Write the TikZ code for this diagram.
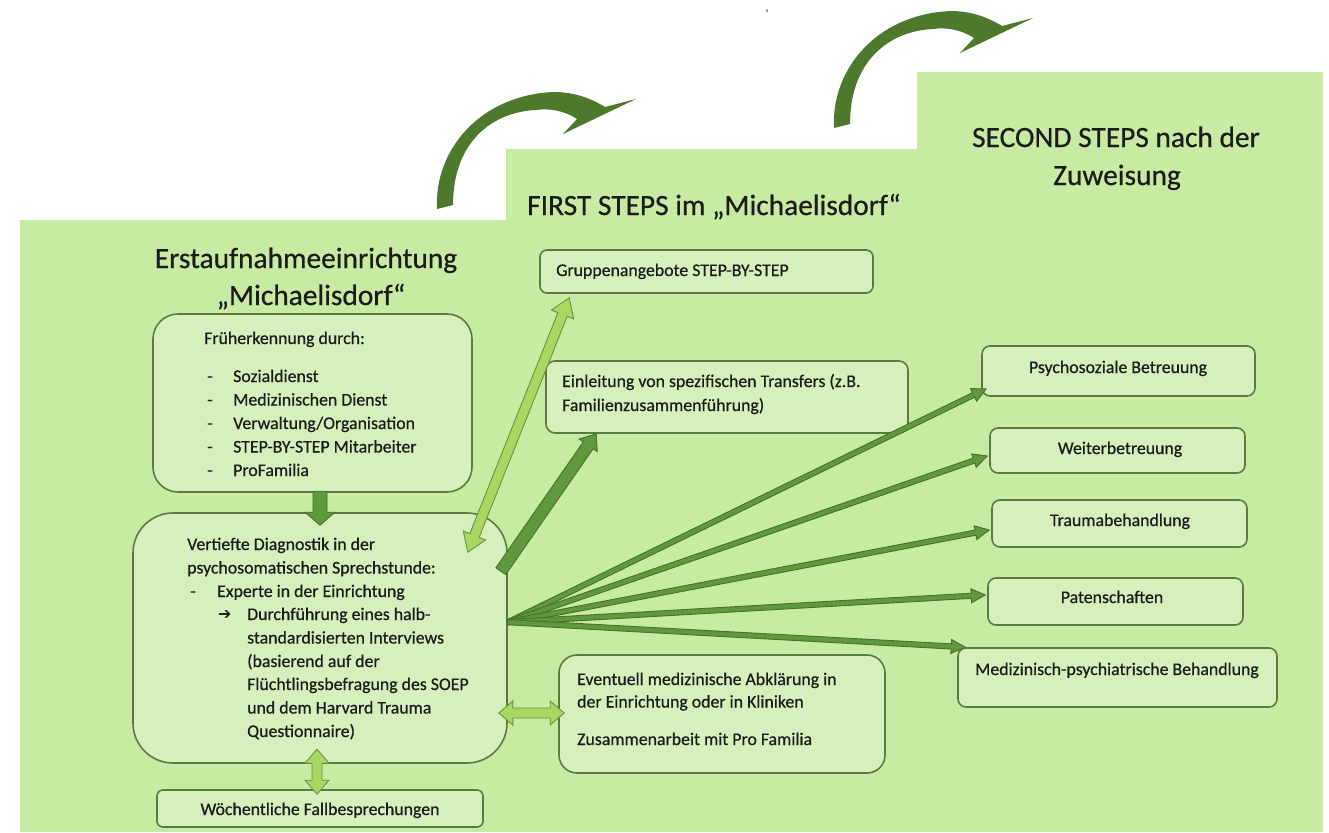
\documentclass[tikz,border=0pt]{standalone}
\usepackage{fontspec}
\setmainfont{Carlito}
\newfontfamily\bodyfam{Carlito}[FakeBold=0.6]
\newfontfamily\symfont{DejaVu Sans}
\usetikzlibrary{calc}
\definecolor{bggreen}{RGB}{200,235,164}
\definecolor{boxfill}{RGB}{213,240,189}
\definecolor{boxline}{RGB}{92,122,64}
\definecolor{darkarrow}{RGB}{96,152,62}
\definecolor{darkline}{RGB}{72,112,46}
\definecolor{lightarrow}{RGB}{170,215,98}
\definecolor{lightline}{RGB}{104,146,66}
\definecolor{curvecol}{RGB}{78,120,44}
\definecolor{textcol}{RGB}{28,28,28}
\newcommand\bodyfont{\bodyfam\fontsize{17.8}{23.5}\selectfont}
\newcommand\titlefont{\bodyfam\fontsize{29.4}{41}\selectfont}
% single-headed block arrow: style, from, to, half shaft, half head, head length
\newcommand\singleblock[6]{%
  \coordinate (sbh) at ($(#3)!#6!(#2)$);
  \filldraw[#1] ($(#2)!#4!90:(#3)$) -- ($(sbh)!#4!-90:(#2)$) -- ($(sbh)!#5!-90:(#2)$) -- (#3)
    -- ($(sbh)!#5!90:(#2)$) -- ($(sbh)!#4!90:(#2)$) -- ($(#2)!#4!-90:(#3)$) -- cycle;}
% double-headed block arrow
\newcommand\doubleblock[6]{%
  \coordinate (dbh1) at ($(#2)!#6!(#3)$);
  \coordinate (dbh2) at ($(#3)!#6!(#2)$);
  \filldraw[#1] (#2) -- ($(dbh1)!#5!90:(#3)$) -- ($(dbh1)!#4!90:(#3)$) -- ($(dbh2)!#4!-90:(#2)$)
    -- ($(dbh2)!#5!-90:(#2)$) -- (#3) -- ($(dbh2)!#5!90:(#2)$) -- ($(dbh2)!#4!90:(#2)$)
    -- ($(dbh1)!#4!-90:(#3)$) -- ($(dbh1)!#5!-90:(#3)$) -- cycle;}
\begin{document}
\begin{tikzpicture}[x=1pt,y=-1pt,
  box/.style={draw=boxline, fill=boxfill, line width=1.6pt, inner sep=0pt},
  txt/.style={inner sep=0pt, anchor=base west, font=\bodyfont, text=textcol},
  ctxt/.style={inner sep=0pt, anchor=base, font=\bodyfont, text=textcol},
  title/.style={inner sep=0pt, font=\titlefont, text=textcol},
  darkblock/.style={fill=darkarrow, draw=darkline, line width=0.9pt, line join=miter},
  lightblock/.style={fill=lightarrow, draw=lightline, line width=0.9pt, line join=miter},
  curvearrow/.style={fill=curvecol}]
\useasboundingbox (0,0) rectangle (1329,832);
\fill[white] (0,0) rectangle (1329,832);
% stepped background
\fill[bggreen] (20,832) -- (20,220) -- (506,220) -- (506,149) -- (917,149) -- (917,72)
  -- (1323,72) -- (1323,832) -- cycle;
% curved arrows between the steps
\fill[curvearrow] (437,209) .. controls (434,150) and (480,95) .. (554,92)
  .. controls (575,92) and (592,99) .. (605,107) -- (636,99) -- (563,134) -- (577,119)
  .. controls (565,111) and (550,108) .. (536,110) .. controls (492,112) and (453,142) .. (453,205) -- cycle;
\begin{scope}[shift={(397,-81)}]
\fill[curvearrow] (437,209) .. controls (434,150) and (480,95) .. (554,92)
  .. controls (575,92) and (592,99) .. (605,107) -- (636,99) -- (563,134) -- (577,119)
  .. controls (565,111) and (550,108) .. (536,110) .. controls (492,112) and (453,142) .. (453,205) -- cycle;
\end{scope}
\node[inner sep=0pt, anchor=base, font=\fontsize{12}{14}\selectfont, text=textcol] (mark) at (767,12) {,};
% titles
\node[title, anchor=base] (t1a) at (306,268) {Erstaufnahmeeinrichtung};
\node[title, anchor=base] (t1b) at (311,305) {„Michaelisdorf“};
\node[title, anchor=base west] (t2) at (527,215) {FIRST STEPS im „Michaelisdorf“};
\node[title, anchor=base] (t3a) at (1116,147) {SECOND STEPS nach der};
\node[title, anchor=base] (t3b) at (1117,185) {Zuweisung};
% boxes
\node[box, rounded corners=25pt, minimum width=319pt, minimum height=178pt] (A) at (312.5,403) {};
\node[box, rounded corners=40pt, minimum width=374pt, minimum height=250pt] (B) at (320,638) {};
\node[box, rounded corners=6pt, minimum width=326pt, minimum height=37pt] (C) at (320,808.5) {};
\node[box, rounded corners=7pt, minimum width=333pt, minimum height=43pt] (D) at (706.5,271.5) {};
\node[box, rounded corners=9pt, minimum width=362pt, minimum height=72pt] (E) at (727,397) {};
\node[box, rounded corners=18pt, minimum width=326pt, minimum height=118pt] (F) at (722,714) {};
\node[box, rounded corners=8pt, minimum width=273pt, minimum height=50pt] (G1) at (1118.5,371) {};
\node[box, rounded corners=8pt, minimum width=255pt, minimum height=45pt] (G2) at (1117.5,450.5) {};
\node[box, rounded corners=8pt, minimum width=255pt, minimum height=47pt] (G3) at (1119.5,523.5) {};
\node[box, rounded corners=8pt, minimum width=255pt, minimum height=47pt] (G4) at (1115.5,601.5) {};
\node[box, rounded corners=8pt, minimum width=319pt, minimum height=59pt] (G5) at (1117.5,677.5) {};
% box A text
\node[txt] (a0) at (204,344) {Früherkennung durch:};
\node[txt] (a1d) at (207,382) {-};   \node[txt] (a1) at (233,382) {Sozialdienst};
\node[txt] (a2d) at (207,405.5) {-}; \node[txt] (a2) at (233,405.5) {Medizinischen Dienst};
\node[txt] (a3d) at (207,429) {-};   \node[txt] (a3) at (233,429) {Verwaltung/Organisation};
\node[txt] (a4d) at (207,452.5) {-}; \node[txt] (a4) at (233,452.5) {STEP-BY-STEP Mitarbeiter};
\node[txt] (a5d) at (207,476) {-};   \node[txt] (a5) at (233,476) {ProFamilia};
% box B text
\node[txt] (b0) at (187,550) {Vertiefte Diagnostik in der};
\node[txt] (b1) at (187,573.5) {psychosomatischen Sprechstunde:};
\node[txt] (b2d) at (190,597) {-};
\node[txt] (b2) at (217,597) {Experte in der Einrichtung};
\node[txt, font=\symfont\fontsize{16}{20}\selectfont] (b3a) at (218,619.5) {➔};
\node[txt] (b3) at (247,620) {Durchführung eines halb-};
\node[txt] (b4) at (247,643.5) {standardisierten Interviews};
\node[txt] (b5) at (247,667) {(basierend auf der};
\node[txt] (b6) at (247,690) {Flüchtlingsbefragung des SOEP};
\node[txt] (b7) at (247,713.5) {und dem Harvard Trauma};
\node[txt] (b8) at (247,737) {Questionnaire)};
% other texts
\node[ctxt] (c0) at (320,815) {Wöchentliche Fallbesprechungen};
\node[txt] (d0) at (556,276) {Gruppenangebote STEP-BY-STEP};
\node[txt] (e0) at (562,387) {Einleitung von spezifischen Transfers (z.B.};
\node[txt] (e1) at (562,411) {Familienzusammenführung)};
\node[txt] (f0) at (577,685) {Eventuell medizinische Abklärung in};
\node[txt] (f1) at (577,707.5) {der Einrichtung oder in Kliniken};
\node[txt] (f2) at (577,745) {Zusammenarbeit mit Pro Familia};
\node[ctxt] (g1) at (1118,373) {Psychosoziale Betreuung};
\node[ctxt] (g2) at (1120,454) {Weiterbetreuung};
\node[ctxt] (g3) at (1120,526) {Traumabehandlung};
\node[ctxt] (g4) at (1112,603) {Patenschaften};
\node[ctxt] (g5) at (1117,675) {Medizinisch-psychiatrische Behandlung};
% connector end points
\coordinate (ab1) at ($(B.north)+(0,-21)$);
\coordinate (ab2) at ($(B.north)+(0,13)$);
\coordinate (bc1) at ($(C.north)+(-3,-40)$);
\coordinate (bc2) at ($(C.north)+(-3,5)$);
\coordinate (bf1) at ($(B.east)+(-9,75)$);
\coordinate (bf2) at ($(F.west)+(6,-1)$);
\coordinate (bd1) at ($(B.north east)+(-40,40)$);
\coordinate (bd2) at ($(D.south west)+(30,4)$);
\coordinate (be1) at ($(B.north east)+(-7,59)$);
\coordinate (be2) at ($(E.south west)+(51,0)$);
\coordinate (fan) at ($(B.north east)+(0,110)$);
\coordinate (g1t) at ($(G1.south west)+(5,-8)$);
\coordinate (g2t) at ($(G2.west)+(-2,5.5)$);
\coordinate (g3t) at ($(G3.west)+(-2,6.5)$);
\coordinate (g4t) at ($(G4.west)+(-2,-6.5)$);
\coordinate (g5t) at ($(G5.north west)+(8,0)$);
% connectors
\singleblock{darkblock}{ab1}{ab2}{7pt}{15pt}{13pt}
\doubleblock{lightblock}{bc1}{bc2}{5pt}{12pt}{14pt}
\doubleblock{lightblock}{bf1}{bf2}{5pt}{12pt}{14pt}
\doubleblock{lightblock}{bd1}{bd2}{5pt}{12pt}{18pt}
\singleblock{darkblock}{be1}{be2}{6pt}{11pt}{14pt}
\singleblock{darkblock}{fan}{g1t}{2.6pt}{7pt}{14pt}
\singleblock{darkblock}{fan}{g2t}{2.6pt}{7pt}{14pt}
\singleblock{darkblock}{fan}{g3t}{2.6pt}{7pt}{14pt}
\singleblock{darkblock}{fan}{g4t}{2.6pt}{7pt}{14pt}
\singleblock{darkblock}{fan}{g5t}{2.6pt}{7pt}{14pt}
\end{tikzpicture}
\end{document}
